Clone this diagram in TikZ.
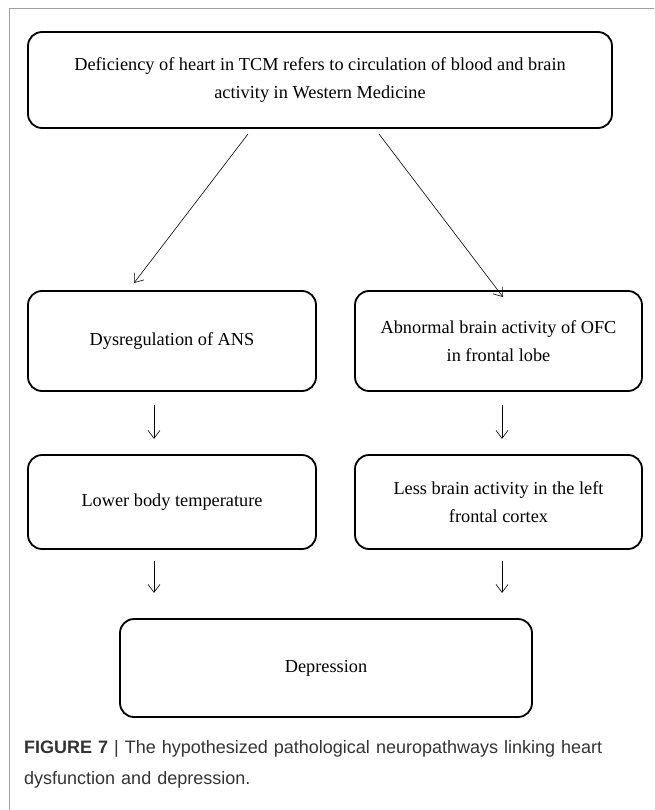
\documentclass[tikz,border=0pt]{standalone}
\usepackage{fontspec}
\setmainfont{Liberation Serif}
\newfontfamily\capfont{Liberation Sans}
\usetikzlibrary{arrows.meta}
\definecolor{capgray}{HTML}{333333}
\definecolor{framegray}{HTML}{A0A0A0}
\begin{document}
\begin{tikzpicture}[x=1pt,y=-1pt,
 box/.style={draw, line width=1.8pt, rounded corners=14pt, align=center,
   font=\fontsize{18.3}{28}\selectfont, inner sep=0pt},
 arr/.style={-{Straight Barb[length=8pt,width=12pt]}, line width=0.6pt}]
\useasboundingbox (0,0) rectangle (654,810);
\draw[framegray, line width=1pt] (9,810) -- (9,9) -- (654,9);

\node[box, minimum width=584pt, minimum height=96pt] (top) at (320,80)
  {Deficiency of heart in TCM refers to circulation of blood and brain\\activity in Western Medicine};
\node[box, minimum width=288pt, minimum height=100pt] (ans) at (172,341) {Dysregulation of ANS};
\node[box, minimum width=287pt, minimum height=100pt] (ofc) at (498.5,341) {Abnormal brain activity of OFC\\in frontal lobe};
\node[box, minimum width=288pt, minimum height=94pt] (temp) at (172,502) {Lower body temperature};
\node[box, minimum width=287pt, minimum height=94pt] (cortex) at (498.5,502) {Less brain activity in the left\\frontal cortex};
\node[box, minimum width=412pt, minimum height=98pt] (dep) at (326,668) {Depression};

\coordinate (s1) at (248,134);
\coordinate (e1) at (134,283);
\coordinate (s2) at (379,134);
\coordinate (e2) at (503,297);
\draw[arr] (s1) -- (e1);
\draw[arr] (s2) -- (e2);

\draw[arr] (ans.south -| 154,0) ++(0,13) coordinate (t1) -- ++(0,34);
\draw[arr] (ofc.south -| 502,0) ++(0,13) coordinate (t2) -- ++(0,34);
\draw[arr] (temp.south -| 154,0) ++(0,11) coordinate (t3) -- ++(0,32);
\draw[arr] (cortex.south -| 502,0) ++(0,11) coordinate (t4) -- ++(0,32);

\node[anchor=north west, inner sep=0pt, text width=620pt, align=left,
  font=\capfont\fontsize{18}{31}\selectfont, text=capgray] (cap) at (24,740)
  {\textbf{FIGURE 7}\,\,|\,\,The hypothesized pathological neuropathways linking heart\\dysfunction and depression.};
\end{tikzpicture}
\end{document}
